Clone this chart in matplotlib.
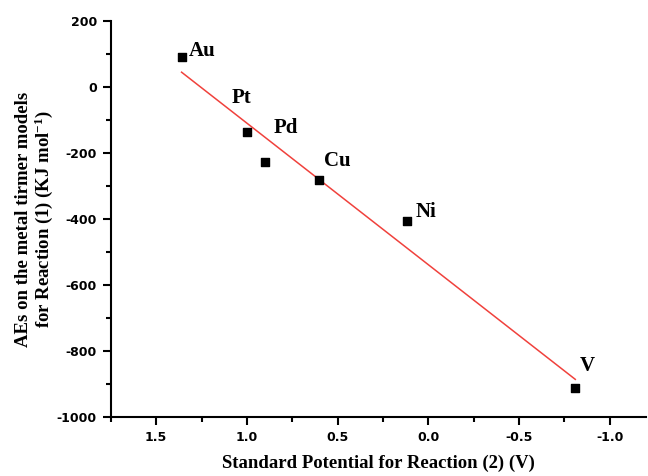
import numpy as np
import matplotlib
matplotlib.use("Agg")
import matplotlib.pyplot as plt
from matplotlib.ticker import MultipleLocator, FuncFormatter

metals = ["Au", "Pt", "Pd", "Cu", "Ni", "V"]
potential = [1.36, 1.00, 0.90, 0.60, 0.12, -0.81]
energy = [91, -136, -227, -282, -406, -912]

plt.rcParams['mathtext.fontset'] = 'custom'
plt.rcParams['mathtext.rm'] = 'Liberation Serif:bold'
plt.rcParams['mathtext.it'] = 'Liberation Serif:bold'
plt.rcParams['mathtext.bf'] = 'Liberation Serif:bold'

fig = plt.figure(figsize=(6.48, 4.76), dpi=100)
ax = fig.add_axes([0.171, 0.124, 0.826, 0.832])

x = np.array(potential)
y = np.array(energy)
k, b = np.polyfit(x, y, 1)
xf = np.array([x.max(), x.min()])
ax.plot(xf, k * xf + b, color='#f0413c', lw=1.1, zorder=2)
ax.scatter(x, y, marker='s', s=32, color='black', zorder=3)

offsets = {"Au": (5, 1), "Pt": (-11, 21), "Pd": (6.5, 21), "Cu": (3.6, 10),
           "Ni": (6.5, 3), "V": (3, 12)}
for m, xi, yi in zip(metals, potential, energy):
    dx, dy = offsets[m]
    ax.annotate(m, (xi, yi), xytext=(dx, dy), textcoords='offset points',
                fontsize=15, fontweight='bold', family='Liberation Serif',
                ha='left', va='baseline')

ax.set_xlim(1.75, -1.2)
ax.set_ylim(-1000, 200)
ax.xaxis.set_major_locator(MultipleLocator(0.5))
ax.xaxis.set_minor_locator(MultipleLocator(0.25))
ax.yaxis.set_major_locator(MultipleLocator(200))
ax.yaxis.set_minor_locator(MultipleLocator(100))
ax.xaxis.set_major_formatter(FuncFormatter(lambda v, p: f"{v:.1f}"))
ax.yaxis.set_major_formatter(FuncFormatter(lambda v, p: f"{int(round(v))}"))

for sp in ['top', 'right']:
    ax.spines[sp].set_visible(False)
for sp in ['left', 'bottom']:
    ax.spines[sp].set_linewidth(1.5)

ax.tick_params(which='major', direction='out', length=6, width=1.5, pad=4)
ax.tick_params(which='minor', direction='out', length=3.5, width=1.5)
for lab in ax.get_xticklabels() + ax.get_yticklabels():
    lab.set_fontfamily('DejaVu Sans')
    lab.set_fontweight('bold')
    lab.set_fontsize(9)

ax.set_xlabel("Standard Potential for Reaction (2) (V)", fontsize=13.5,
              fontweight='bold', family='Liberation Serif', labelpad=8)
ax.set_ylabel("AEs on the metal tirmer models\nfor Reaction (1) (KJ mol$^{-1}$)",
              fontsize=13.5, fontweight='bold', family='Liberation Serif', labelpad=1,
              linespacing=1.05)

fig.savefig("out.png", dpi=100)
